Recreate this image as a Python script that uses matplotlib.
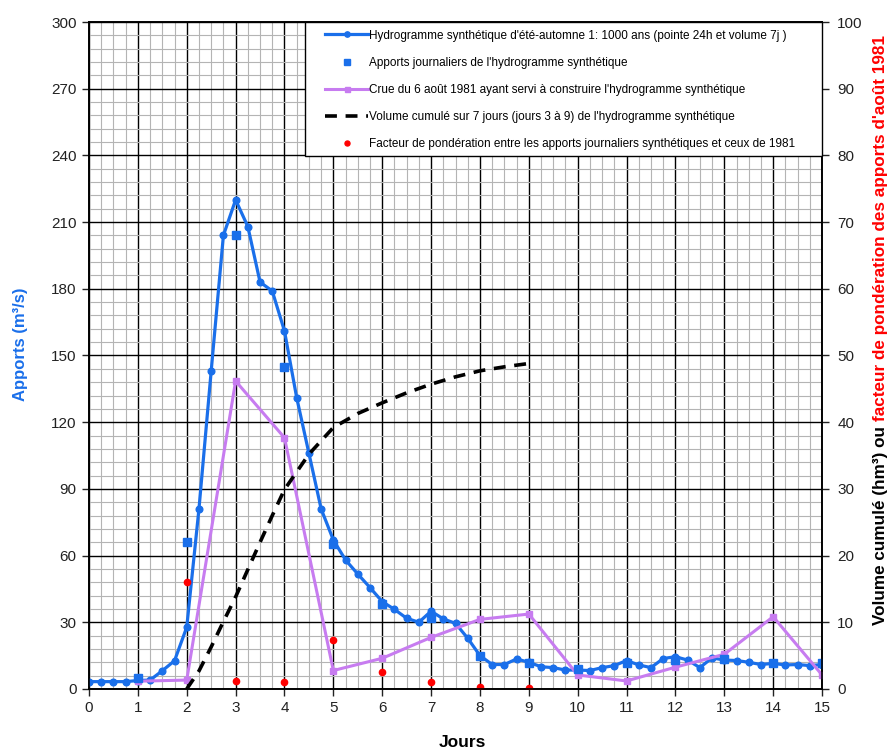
import matplotlib
matplotlib.use("Agg")
import matplotlib.pyplot as plt
from matplotlib.ticker import MultipleLocator
from matplotlib.patches import Rectangle

plt.rcParams['font.family'] = ['Liberation Sans', 'DejaVu Sans']

# hydrogramme synthetique, pas de 6 h (jours 0 a 15)
jours_6h = [i * 0.25 for i in range(61)]
debit_6h = [3.3, 3.3, 3.3, 3.3, 3.8, 4.0, 8.2, 12.7, 27.8, 81, 143, 204, 220, 208, 183, 179,
            161, 131, 106, 81, 67, 58, 51.7, 45.6, 39.3, 35.8, 31.8, 30, 35, 31.5, 29.5, 22.8,
            15, 11, 11, 13.5, 12, 10, 9.6, 8.5, 8.5, 8.3, 9.6, 10.5, 12.8, 10.8, 9.6, 13.7,
            14.5, 13, 9.6, 14, 13, 12.8, 12, 11, 11.5, 10.8, 11, 10.5, 11]

# apports journaliers synthetiques
jours_j = [1, 2, 3, 4, 5, 6, 7, 8, 9, 10, 11, 12, 13, 14, 15]
apports_j = [5, 66, 204, 145, 65, 38.2, 32, 15, 11.5, 9, 11.5, 13, 13.5, 11.5, 11.5]

# crue du 6 aout 1981
jours_1981 = [1, 2, 3, 4, 5, 6, 7, 8, 9, 10, 11, 12, 13, 14, 15]
crue_1981 = [3.5, 4, 138.5, 113, 8.3, 13.8, 23.2, 31.3, 33.7, 6.3, 3.6, 9.8, 15.6, 32.5, 6.3]

# volume cumule (hm3), axe de droite
jours_vol = [2, 2.25, 2.5, 2.75, 3, 3.25, 3.5, 3.75, 4, 4.5, 5, 5.5, 6, 6.5, 7, 7.5, 8, 8.5, 9]
volume = [0, 2.7, 6.3, 10.1, 13.8, 17.9, 22.0, 26.0, 29.9, 35.2, 39.2, 41.3, 42.9, 44.4,
          45.7, 46.8, 47.7, 48.3, 48.8]

# facteur de ponderation, axe de droite
jours_fac = [2, 3, 4, 5, 6, 7, 8, 9]
facteur = [16, 1.25, 1.1, 7.3, 2.6, 1.1, 0.25, 0.1]

bleu = '#1a6fea'
violet = '#c77cf0'
rouge = '#ff0000'

fig = plt.figure(figsize=(8.91, 7.51), dpi=100)
ax = fig.add_axes([0.0999, 0.0826, 0.8227, 0.8881])
ax2 = ax.twinx()

ax.plot(jours_6h, debit_6h, color=bleu, lw=2.3, marker='o', ms=4.8, zorder=3,
        label="Hydrogramme synthétique d'été-automne 1: 1000 ans (pointe 24h et volume 7j )")
ax.plot(jours_j, apports_j, ls='none', marker='s', ms=6, color=bleu, zorder=4,
        label="Apports journaliers de l'hydrogramme synthétique")
ax.plot(jours_1981, crue_1981, color=violet, lw=2.2, marker='s', ms=4.5, zorder=3,
        label="Crue du 6 août 1981 ayant servi à construire l'hydrogramme synthétique")

ax2.plot(jours_vol, volume, color='black', lw=2.6, dashes=(3.3, 2.4),
         label="Volume cumulé sur 7 jours (jours 3 à 9) de l'hydrogramme synthétique")
ax2.plot(jours_fac, facteur, ls='none', marker='o', ms=4.5, color=rouge,
         label="Facteur de pondération entre les apports journaliers synthétiques et ceux de 1981")

ax.set_xlim(0, 15)
ax.set_ylim(0, 300)
ax2.set_ylim(0, 100)
ax.xaxis.set_major_locator(MultipleLocator(1))
ax.xaxis.set_minor_locator(MultipleLocator(0.25))
ax.yaxis.set_major_locator(MultipleLocator(30))
ax.yaxis.set_minor_locator(MultipleLocator(6))
ax2.yaxis.set_major_locator(MultipleLocator(10))
ax2.yaxis.set_minor_locator(MultipleLocator(2))

ax.grid(which='minor', color='#b4b4b4', lw=0.8)
ax.grid(which='major', color='black', lw=1.0)
ax.set_axisbelow(True)

ax.tick_params(which='major', labelsize=11, length=5, width=1, pad=4, colors='#222222')
ax.tick_params(which='minor', length=0)
ax2.tick_params(which='major', labelsize=11, length=5, width=1, pad=6, colors='#222222')
ax2.tick_params(which='minor', length=0)
for a in (ax, ax2):
    for s in a.spines.values():
        s.set_linewidth(1.2)

ax.set_xlabel('Jours', fontsize=12.5, fontweight='bold')
ax.xaxis.set_label_coords(0.51, -0.069)
ax.set_ylabel('Apports (m³/s)', fontsize=12, fontweight='bold', color=bleu)
ax.yaxis.set_label_coords(-0.083, 0.517)

# cadre de la legende
cadre = Rectangle((0.2947, 0.799), 0.7053, 0.201, transform=ax2.transAxes, facecolor='white',
                  edgecolor='black', lw=1.0, zorder=4, clip_on=False)
ax2.add_patch(cadre)

h1, l1 = ax.get_legend_handles_labels()
h2, l2 = ax2.get_legend_handles_labels()
leg = ax2.legend(h1 + h2, l1 + l2, loc='upper left', bbox_to_anchor=(0.322, 0.9886),
                 fontsize=8.5, frameon=False, handlelength=3.64, handletextpad=0.1,
                 labelspacing=1.28, borderpad=0, borderaxespad=0, markerscale=0.8)
leg.set_zorder(5)

# titre de l'axe de droite en deux couleurs
fig.canvas.draw()
r = fig.canvas.get_renderer()
xr = 880 / 891
t1 = fig.text(xr, 0.5, 'Volume cumulé (hm³) ou', rotation=90, ha='center', va='center',
              fontsize=12.3, fontweight='bold', color='black')
t2 = fig.text(xr, 0.5, "facteur de pondération des apports d'août 1981", rotation=90,
              ha='center', va='center', fontsize=12.3, fontweight='bold', color=rouge)
H = fig.bbox.height
e1 = t1.get_window_extent(r).height
e2 = t2.get_window_extent(r).height
gap = 5
cy = H - 330
y0 = cy - (e1 + e2 + gap) / 2
t1.set_y((y0 + e1 / 2) / H)
t2.set_y((y0 + e1 + gap + e2 / 2) / H)

fig.savefig('out.png', dpi=100)
